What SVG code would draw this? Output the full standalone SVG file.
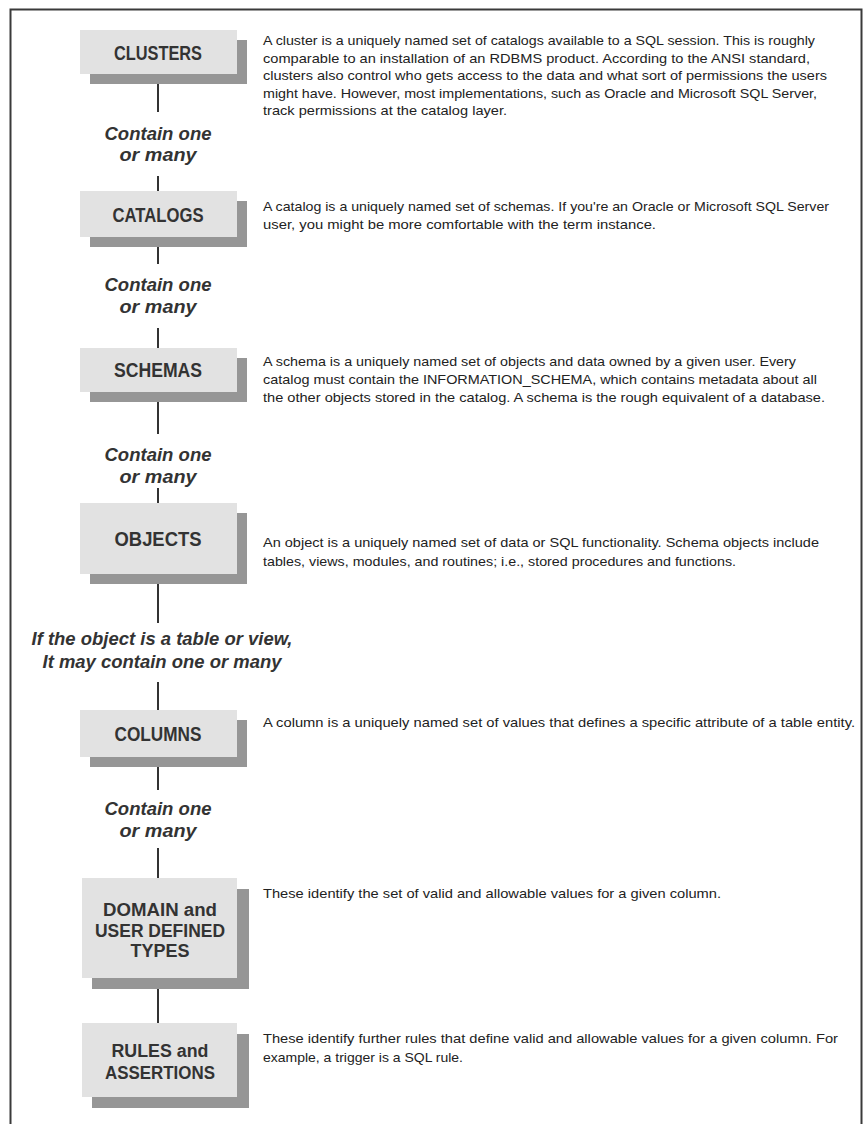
<svg xmlns="http://www.w3.org/2000/svg" width="864" height="1124" viewBox="0 0 864 1124">
<style>
.frame{stroke:#3a3a3a;stroke-width:2;fill:none}
.shadow{fill:#969696}
.box{fill:#e2e2e2}
.lbl{font-family:"Liberation Sans",Arial,sans-serif;font-weight:bold;font-size:21px;fill:#333;text-anchor:middle}
.lbl2{font-family:"Liberation Sans",Arial,sans-serif;font-weight:bold;font-size:18px;fill:#333;text-anchor:middle}
.rel{font-family:"Liberation Sans",Arial,sans-serif;font-weight:bold;font-style:italic;font-size:19px;fill:#333;text-anchor:middle}
.desc{font-family:"Liberation Sans",Arial,sans-serif;font-size:13.5px;fill:#222}
.con{stroke:#333;stroke-width:2}
</style>
<rect width="864" height="1124" fill="#fff"/>
<path class="frame" d="M10.5,1124 V9.5 H861.5 V1124"/>
<g id="connectors">
<line class="con" x1="158" y1="74" x2="158" y2="112"/>
<line class="con" x1="158" y1="176" x2="158" y2="191"/>
<line class="con" x1="158" y1="237" x2="158" y2="264"/>
<line class="con" x1="158" y1="328" x2="158" y2="348"/>
<line class="con" x1="158" y1="392" x2="158" y2="434"/>
<line class="con" x1="158" y1="488" x2="158" y2="503"/>
<line class="con" x1="158" y1="574" x2="158" y2="623"/>
<line class="con" x1="158" y1="682" x2="158" y2="710"/>
<line class="con" x1="158" y1="757" x2="158" y2="790"/>
<line class="con" x1="158" y1="848" x2="158" y2="878"/>
<line class="con" x1="158" y1="978" x2="158" y2="1023"/>
<text class="rel" x="158" y="140" textLength="107" lengthAdjust="spacingAndGlyphs">Contain one</text>
<text class="rel" x="158" y="161" textLength="77" lengthAdjust="spacingAndGlyphs">or many</text>
<text class="rel" x="158" y="291" textLength="107" lengthAdjust="spacingAndGlyphs">Contain one</text>
<text class="rel" x="158" y="313" textLength="77" lengthAdjust="spacingAndGlyphs">or many</text>
<text class="rel" x="158" y="461" textLength="107" lengthAdjust="spacingAndGlyphs">Contain one</text>
<text class="rel" x="158" y="483" textLength="77" lengthAdjust="spacingAndGlyphs">or many</text>
<text class="rel" x="162" y="645" textLength="261" lengthAdjust="spacingAndGlyphs">If the object is a table or view,</text>
<text class="rel" x="162" y="668" textLength="239" lengthAdjust="spacingAndGlyphs">It may contain one or many</text>
<text class="rel" x="158" y="815" textLength="107" lengthAdjust="spacingAndGlyphs">Contain one</text>
<text class="rel" x="158" y="837" textLength="77" lengthAdjust="spacingAndGlyphs">or many</text>
</g>
<g id="clusters">
<rect class="shadow" x="90" y="40" width="157" height="44"/>
<rect class="box" x="80" y="30" width="157" height="44"/>
<text class="lbl" x="158" y="60" textLength="88" lengthAdjust="spacingAndGlyphs">CLUSTERS</text>
<text class="desc" x="263" y="45" textLength="552" lengthAdjust="spacingAndGlyphs">A cluster is a uniquely named set of catalogs available to a SQL session. This is roughly</text>
<text class="desc" x="263" y="62.5" textLength="547" lengthAdjust="spacingAndGlyphs">comparable to an installation of an RDBMS product. According to the ANSI standard,</text>
<text class="desc" x="263" y="80" textLength="564" lengthAdjust="spacingAndGlyphs">clusters also control who gets access to the data and what sort of permissions the users</text>
<text class="desc" x="263" y="97.5" textLength="554" lengthAdjust="spacingAndGlyphs">might have. However, most implementations, such as Oracle and Microsoft SQL Server,</text>
<text class="desc" x="263" y="115" textLength="244" lengthAdjust="spacingAndGlyphs">track permissions at the catalog layer.</text>
</g>
<g id="catalogs">
<rect class="shadow" x="90" y="201" width="157" height="46"/>
<rect class="box" x="80" y="191" width="157" height="46"/>
<text class="lbl" x="158" y="222" textLength="91" lengthAdjust="spacingAndGlyphs">CATALOGS</text>
<text class="desc" x="263" y="211" textLength="566" lengthAdjust="spacingAndGlyphs">A catalog is a uniquely named set of schemas. If you're an Oracle or Microsoft SQL Server</text>
<text class="desc" x="263" y="229" textLength="393" lengthAdjust="spacingAndGlyphs">user, you might be more comfortable with the term instance.</text>
</g>
<g id="schemas">
<rect class="shadow" x="90" y="358" width="157" height="44"/>
<rect class="box" x="80" y="348" width="157" height="44"/>
<text class="lbl" x="158" y="377" textLength="88" lengthAdjust="spacingAndGlyphs">SCHEMAS</text>
<text class="desc" x="263" y="366" textLength="533" lengthAdjust="spacingAndGlyphs">A schema is a uniquely named set of objects and data owned by a given user. Every</text>
<text class="desc" x="263" y="384" textLength="554" lengthAdjust="spacingAndGlyphs">catalog must contain the INFORMATION_SCHEMA, which contains metadata about all</text>
<text class="desc" x="263" y="402" textLength="562" lengthAdjust="spacingAndGlyphs">the other objects stored in the catalog. A schema is the rough equivalent of a database.</text>
</g>
<g id="objects">
<rect class="shadow" x="90" y="513" width="157" height="71"/>
<rect class="box" x="80" y="503" width="157" height="71"/>
<text class="lbl" x="158" y="546" textLength="87" lengthAdjust="spacingAndGlyphs">OBJECTS</text>
<text class="desc" x="263" y="547" textLength="556" lengthAdjust="spacingAndGlyphs">An object is a uniquely named set of data or SQL functionality. Schema objects include</text>
<text class="desc" x="263" y="566" textLength="473" lengthAdjust="spacingAndGlyphs">tables, views, modules, and routines; i.e., stored procedures and functions.</text>
</g>
<g id="columns">
<rect class="shadow" x="90" y="720" width="157" height="47"/>
<rect class="box" x="80" y="710" width="157" height="47"/>
<text class="lbl" x="158" y="741" textLength="87" lengthAdjust="spacingAndGlyphs">COLUMNS</text>
<text class="desc" x="263" y="727" textLength="592" lengthAdjust="spacingAndGlyphs">A column is a uniquely named set of values that defines a specific attribute of a table entity.</text>
</g>
<g id="domain">
<rect class="shadow" x="92" y="889" width="157" height="100"/>
<rect class="box" x="82" y="878" width="155" height="100"/>
<text class="lbl2" x="160" y="916" textLength="114" lengthAdjust="spacingAndGlyphs">DOMAIN and</text>
<text class="lbl2" x="160" y="936.5" textLength="130" lengthAdjust="spacingAndGlyphs">USER DEFINED</text>
<text class="lbl2" x="160" y="957" textLength="59" lengthAdjust="spacingAndGlyphs">TYPES</text>
<text class="desc" x="263" y="898" textLength="458" lengthAdjust="spacingAndGlyphs">These identify the set of valid and allowable values for a given column.</text>
</g>
<g id="rules">
<rect class="shadow" x="92" y="1034" width="157" height="74"/>
<rect class="box" x="82" y="1023" width="155" height="74"/>
<text class="lbl2" x="160" y="1057" textLength="97" lengthAdjust="spacingAndGlyphs">RULES and</text>
<text class="lbl2" x="160" y="1079" textLength="110" lengthAdjust="spacingAndGlyphs">ASSERTIONS</text>
<text class="desc" x="263" y="1043" textLength="575" lengthAdjust="spacingAndGlyphs">These identify further rules that define valid and allowable values for a given column. For</text>
<text class="desc" x="263" y="1062" textLength="200" lengthAdjust="spacingAndGlyphs">example, a trigger is a SQL rule.</text>
</g>
</svg>
